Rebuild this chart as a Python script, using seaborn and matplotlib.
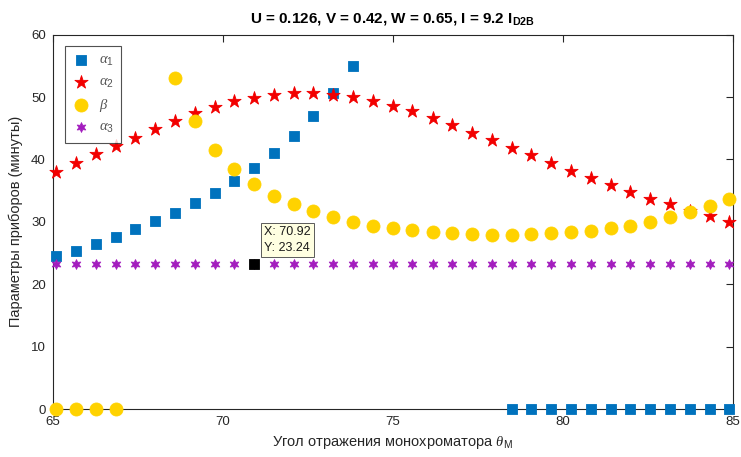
import numpy as np
import pandas as pd
import matplotlib
matplotlib.use("Agg")
import matplotlib.pyplot as plt
import seaborn as sns

# ---------------- data ----------------
theta = [65.10, 65.68, 66.26, 66.85, 67.43, 68.01, 68.59, 69.18, 69.76, 70.34,
         70.92, 71.51, 72.09, 72.67, 73.25, 73.84, 74.42, 75.00, 75.58, 76.17,
         76.75, 77.33, 77.91, 78.50, 79.08, 79.66, 80.24, 80.82, 81.41, 81.99,
         82.57, 83.15, 83.74, 84.32, 84.90]
nan = np.nan
alpha1 = [24.6, 25.4, 26.5, 27.6, 28.8, 30.1, 31.5, 33.0, 34.7, 36.6,
          38.7, 41.1, 43.7, 46.9, 50.7, 55.0, nan, nan, nan, nan,
          nan, nan, nan, 0, 0, 0, 0, 0, 0, 0,
          0, 0, 0, 0, 0]
alpha2 = [38.0, 39.5, 40.9, 42.2, 43.5, 44.9, 46.2, 47.5, 48.4, 49.3,
          49.9, 50.3, 50.6, 50.7, 50.4, 50.0, 49.4, 48.6, 47.7, 46.6,
          45.5, 44.3, 43.1, 41.9, 40.7, 39.5, 38.2, 37.1, 35.9, 34.8,
          33.7, 32.8, 31.8, 30.9, 30.0]
beta = [0, 0, 0, 0, nan, nan, 53.0, 46.1, 41.6, 38.4,
        36.1, 34.2, 32.8, 31.8, 30.8, 30.0, 29.4, 29.0, 28.7, 28.4,
        28.2, 28.0, 27.9, 27.9, 28.0, 28.2, 28.4, 28.6, 29.0, 29.4,
        30.0, 30.8, 31.6, 32.5, 33.7]
alpha3 = [23.24] * 35
tip_x, tip_y = 70.92, 23.24

labels = [r"$\alpha_1$", r"$\alpha_2$", r"$\beta$", r"$\alpha_3$"]
title = r"U = 0.126, V = 0.42, W = 0.65, I = 9.2 I$_{\mathbf{D2B}}$"
xlabel = r"Угол отражения монохроматора $\theta_{\mathrm{M}}$"
ylabel = "Параметры приборов (минуты)"
xticks = [65, 70, 75, 80, 85]
yticks = [0, 10, 20, 30, 40, 50, 60]

# ---------------- style ----------------
sns.set_theme(style="white")
plt.rcParams["font.family"] = ["Liberation Sans", "DejaVu Sans"]
plt.rcParams["mathtext.fontset"] = "custom"
plt.rcParams["mathtext.rm"] = "Liberation Sans"
plt.rcParams["mathtext.it"] = "Liberation Serif:italic"
plt.rcParams["mathtext.bf"] = "Liberation Sans:bold"

dark = "#262626"
fig = plt.figure(figsize=(7.41, 4.57), dpi=100)
ax = fig.add_axes([0.0711, 0.1050, 0.9178, 0.8190])

df = pd.DataFrame({"theta": theta, "a1": alpha1, "a2": alpha2, "b": beta, "a3": alpha3})

series = [
    ("a1", "s", "#0072BD", 50, labels[0]),
    ("a2", "*", "#F20000", 100, labels[1]),
    ("b", "o", "#FFD200", 88, labels[2]),
    ("a3", (6, 1, 0), "#A31DBE", 50, labels[3]),
]
for col, mk, c, s, lab in series:
    sns.scatterplot(data=df, x="theta", y=col, marker=mk, color=c, s=s,
                    edgecolor=c, linewidth=0.6, label=lab, ax=ax,
                    clip_on=False, zorder=3)

# data tip
sns.scatterplot(x=[tip_x], y=[tip_y], marker="s", color="black", s=48,
                edgecolor="black", linewidth=0.6, ax=ax, zorder=5, legend=False)
ax.annotate(f"X: {tip_x:.2f}\nY: {tip_y:.2f}", xy=(tip_x, tip_y),
            xytext=(10, 38), textcoords="offset pixels", ha="left", va="top",
            fontsize=9, color="#1a1a1a", linespacing=1.45, zorder=6,
            bbox=dict(boxstyle="square,pad=0.25", fc="#FFFFE1", ec="#5a5a5a", lw=0.7))

ax.set_xlim(65, 85)
ax.set_ylim(0, 60)
ax.set_xticks(xticks)
ax.set_yticks(yticks)
ax.tick_params(direction="in", length=5, width=0.8, colors=dark, labelsize=9.5,
               top=True, right=True, labeltop=False, labelright=False, pad=5)
for sp in ax.spines.values():
    sp.set_color(dark)
    sp.set_linewidth(0.8)
    sp.set_visible(True)

ax.set_xlabel(xlabel, fontsize=10.5, color=dark, labelpad=4)
ax.set_ylabel(ylabel, fontsize=10.5, color=dark, labelpad=6)
ax.set_title(title, fontsize=11, fontweight="bold", color="black", pad=9)

leg = ax.legend(loc="upper left", bbox_to_anchor=(65 / 741, 1 - 46 / 457),
                bbox_transform=fig.transFigure, borderaxespad=0,
                frameon=True, fancybox=False, fontsize=10.5,
                handletextpad=0.6, labelspacing=0.45, borderpad=0.5,
                handlelength=1.2)
leg.get_frame().set_edgecolor(dark)
leg.get_frame().set_linewidth(0.8)
for t in leg.get_texts():
    t.set_color("#555555")

fig.savefig("out.png", dpi=100, facecolor="white")
